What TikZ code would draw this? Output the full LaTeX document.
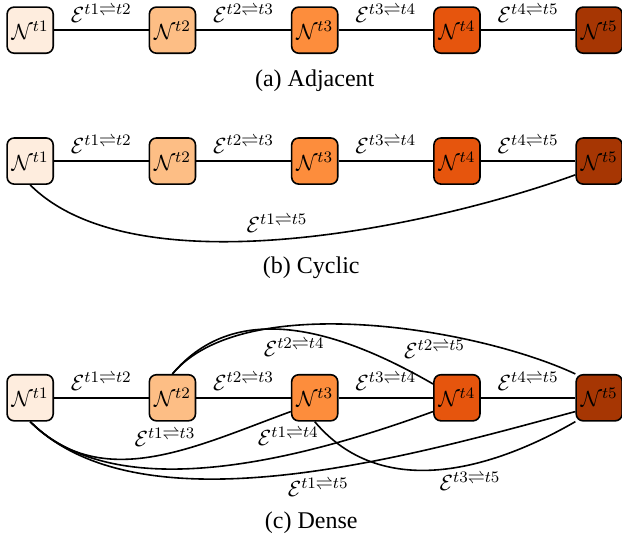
\documentclass[tikz,border=0pt]{standalone}
\usepackage[no-math]{fontspec}
\setmainfont{Liberation Serif}
\usepackage{tikz}
\definecolor{orA}{HTML}{FEEDDE}
\definecolor{orB}{HTML}{FDBE85}
\definecolor{orC}{HTML}{FD8D3C}
\definecolor{orD}{HTML}{E6550D}
\definecolor{orE}{HTML}{A63603}
\tikzset{
  stage/.style={draw, line width=0.8pt, rounded corners=3.5pt,
    minimum size=0.81cm, inner sep=0pt},
  link/.style={line width=0.8pt},
  subcap/.style={font=\fontsize{12}{14}\selectfont},
}

\begin{document}
\begin{tikzpicture}[every node/.append style={font=\fontsize{11}{13}\selectfont}]
    \useasboundingbox (0,0) rectangle (10.93,-9.44);
    % the three rows of stages
    \foreach \i/\col in {1/orA,2/orB,3/orC,4/orD,5/orE}{
      \pgfmathsetmacro\xpos{0.53+2.5*(\i-1)}
      \node[stage,fill=\col] (a\i) at (\xpos,-0.53) {$\mathcal{N}^{t\i}$};
      \node[stage,fill=\col] (b\i) at (\xpos,-2.83) {$\mathcal{N}^{t\i}$};
      \node[stage,fill=\col] (c\i) at (\xpos,-6.99) {$\mathcal{N}^{t\i}$};
    }
    \begin{scope}[link]
      \foreach \i/\j in {1/2,2/3,3/4,4/5}{
        \draw (a\i) -- node[above]{$\mathcal{E}^{t\i\rightleftharpoons t\j}$} (a\j);
        \draw (b\i) -- node[above]{$\mathcal{E}^{t\i\rightleftharpoons t\j}$} (b\j);
        \draw (c\i) -- node[above]{$\mathcal{E}^{t\i\rightleftharpoons t\j}$} (c\j);
      }
      % cyclic
      \draw (b1.south) to[out=-45,in=200,looseness=0.7]
        node[pos=0.48,above]{$\mathcal{E}^{t1\rightleftharpoons t5}$} (b5.-150);
      % dense
      \draw (c1.south) to[out=-45,in=200,looseness=1]
        node[pos=0.55,above]{$\mathcal{E}^{t1\rightleftharpoons t3}$} (c3.-150);
      \draw (c1.south) to[out=-45,in=200,looseness=0.8]
        node[pos=0.65,above=1pt]{$\mathcal{E}^{t1\rightleftharpoons t4}$} (c4.-150);
      \draw (c1.south) to[out=-45,in=195,looseness=0.75]
        node[pos=0.55,below]{$\mathcal{E}^{t1\rightleftharpoons t5}$} (c5.-150);
      \draw (c3.south) to[out=-50,in=210]
        node[pos=0.62,below]{$\mathcal{E}^{t3\rightleftharpoons t5}$} (c5.south west);
      \draw (c2.north) to[out=50,in=150]
        node[pos=0.5,below]{$\mathcal{E}^{t2\rightleftharpoons t4}$} (c4.150);
      \draw (c2.north) to[out=50,in=155,looseness=0.7]
        node[pos=0.65,below]{$\mathcal{E}^{t2\rightleftharpoons t5}$} (c5.north west);
    \end{scope}
    % captions
    \node[subcap] (capa) at (5.53,-1.41) {(a) Adjacent};
    \node[subcap] (capb) at (5.47,-4.71) {(b) Cyclic};
    \node[subcap] (capc) at (5.47,-9.19) {(c) Dense};
  \end{tikzpicture}
\end{document}
